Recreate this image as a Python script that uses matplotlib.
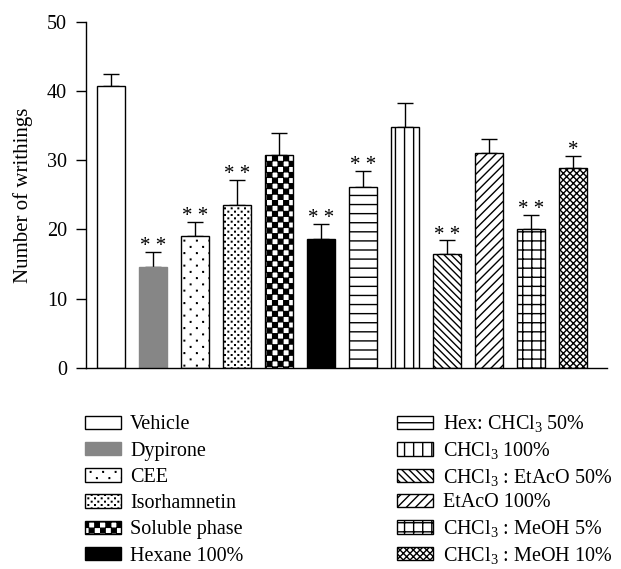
import warnings
import numpy as np
import matplotlib
matplotlib.use('Agg')
from matplotlib import pyplot as plt
import matplotlib.hatch as mhatch
from matplotlib.path import Path

warnings.filterwarnings('ignore')

plt.rcParams['font.family'] = 'Liberation Serif'
plt.rcParams['mathtext.fontset'] = 'custom'
plt.rcParams['mathtext.rm'] = 'Liberation Serif'
plt.rcParams['mathtext.it'] = 'Liberation Serif'
plt.rcParams['hatch.linewidth'] = 1.0


# custom hatch patterns (tile = 1 inch), matplotlib's own are too sparse
def _lines(kind, n):
    segs = []
    if kind in 'hg':
        for j in range(n):
            y = (j + 0.5) / n
            segs.append(((0, y), (1, y)))
    if kind in 'vg':
        for j in range(n):
            x = (j + 0.5) / n
            segs.append(((x, 0), (x, 1)))
    if kind in 'fk':
        for k in range(-n, n + 1):
            c = (k + 0.5) / n
            segs.append(((0, c), (1, 1 + c)))
    if kind in 'bk':
        for k in range(0, 2 * n + 1):
            c = (k + 0.5) / n
            segs.append(((0, c), (1, c - 1)))
    v = [p for s in segs for p in s]
    c = [Path.MOVETO, Path.LINETO] * len(segs)
    return v, c


def _dots(cols, rows, r=0.003):
    v, c = [], []
    for j in range(rows):
        for i in range(cols):
            x = (i + 0.25 + 0.5 * (j % 2)) / cols
            y = (j + 0.5) / rows
            v += [(x - r, y - r), (x + r, y - r), (x + r, y + r), (x - r, y + r), (x - r, y - r)]
            c += [Path.MOVETO, Path.LINETO, Path.LINETO, Path.LINETO, Path.CLOSEPOLY]
    return v, c


def _checker(n, d=0.004):
    v, c = [], []
    s = 1.0 / n
    for i in range(n):
        for j in range(n):
            if (i + j) % 2 == 0:
                x0, y0 = i * s + d, j * s + d
                x1, y1 = (i + 1) * s - d, (j + 1) * s - d
                v += [(x0, y0), (x1, y0), (x1, y1), (x0, y1), (x0, y0)]
                c += [Path.MOVETO, Path.LINETO, Path.LINETO, Path.LINETO, Path.CLOSEPOLY]
    return v, c


CUSTOM = {
    'c': lambda: _checker(18),
    'd': lambda: _dots(8, 16),
    'e': lambda: _dots(15, 30),
    'h': lambda: _lines('h', 11),
    'v': lambda: _lines('v', 11),
    'b': lambda: _lines('b', 14),
    'f': lambda: _lines('f', 11),
    'g': lambda: _lines('g', 11),
    'k': lambda: _lines('k', 15),
}


class CustomHatch(mhatch.HatchPatternBase):
    filled = True

    def __init__(self, hatch, density):
        self.v, self.c = [], []
        for ch in sorted(set(hatch)):
            if ch in CUSTOM:
                v, c = CUSTOM[ch]()
                self.v += v
                self.c += c
        self.num_vertices = len(self.v)

    def set_vertices_and_codes(self, vertices, codes):
        vertices[:] = np.array(self.v, dtype=float)
        codes[:] = self.c


mhatch._hatch_types.append(CustomHatch)

# data
groups = ['Vehicle', 'Dypirone', 'CEE', 'Isorhamnetin', 'Soluble phase',
          'Hexane 100%', 'Hex: CHCl$_3$ 50%', 'CHCl$_3$ 100%',
          'CHCl$_3$ : EtAcO 50%', 'EtAcO 100%', 'CHCl$_3$ : MeOH 5%',
          'CHCl$_3$ : MeOH 10%']
means = [40.7, 14.6, 19.0, 23.5, 30.8, 18.6, 26.1, 34.8, 16.4, 31.0, 20.0, 28.9]
sems = [1.8, 2.1, 2.1, 3.7, 3.1, 2.2, 2.4, 3.5, 2.0, 2.1, 2.1, 1.7]
stars = ['', '* *', '* *', '* *', '', '* *', '* *', '', '* *', '', '* *', '*']

facecolors = ['white', '#868686', 'white', 'white', 'white', 'black',
              'white', 'white', 'white', 'white', 'white', 'white']
edgecolors = ['black', '#868686', 'black', 'black', 'black', 'black',
              'black', 'black', 'black', 'black', 'black', 'black']
hatches = [None, None, 'd', 'e', 'c', None, 'h', 'v', 'b', 'f', 'g', 'k']

fig = plt.figure(figsize=(6.21, 5.69), dpi=100)
ax = fig.add_axes([0.1385, 0.3538, 0.8389, 0.6075])

x = np.arange(len(groups))
bars = ax.bar(x, means, width=0.67, color=facecolors, edgecolor=edgecolors,
              linewidth=1.0, zorder=2)
for b, h in zip(bars, hatches):
    if h:
        b.set_hatch(h)

ax.errorbar(x, means, yerr=[np.zeros(len(sems)), sems], fmt='none',
            ecolor='black', elinewidth=1.0, capsize=5.5, capthick=1.0, zorder=1)

for xi, m, s, st in zip(x, means, sems, stars):
    if st:
        ax.annotate(st, (xi, m + s), xytext=(0, -3), textcoords='offset points',
                    ha='center', va='bottom', fontsize=15)

ax.set_xlim(-0.6, 11.8)
ax.set_ylim(0, 50)
ax.set_yticks([0, 10, 20, 30, 40, 50])
ax.set_xticks([])
ax.tick_params(axis='y', length=7.2, width=1.0, labelsize=14.5, pad=6.5)
ax.spines['top'].set_visible(False)
ax.spines['right'].set_visible(False)
ax.spines['left'].set_linewidth(1.0)
ax.spines['bottom'].set_linewidth(1.0)
ax.set_ylabel('Number of writhings', fontsize=15, labelpad=10)

leg_kw = dict(frameon=False, fontsize=14.5, handlelength=1.79, handleheight=0.65,
              handletextpad=0.45, borderpad=0, borderaxespad=0, loc='upper left')
leg1 = fig.legend(bars[:6], groups[:6], bbox_to_anchor=(0.137, 0.270),
                  labelspacing=0.36, **leg_kw)
leg2 = fig.legend(bars[6:], groups[6:], bbox_to_anchor=(0.640, 0.2735),
                  labelspacing=0.28, **leg_kw)

fig.savefig('out.png', dpi=100)
